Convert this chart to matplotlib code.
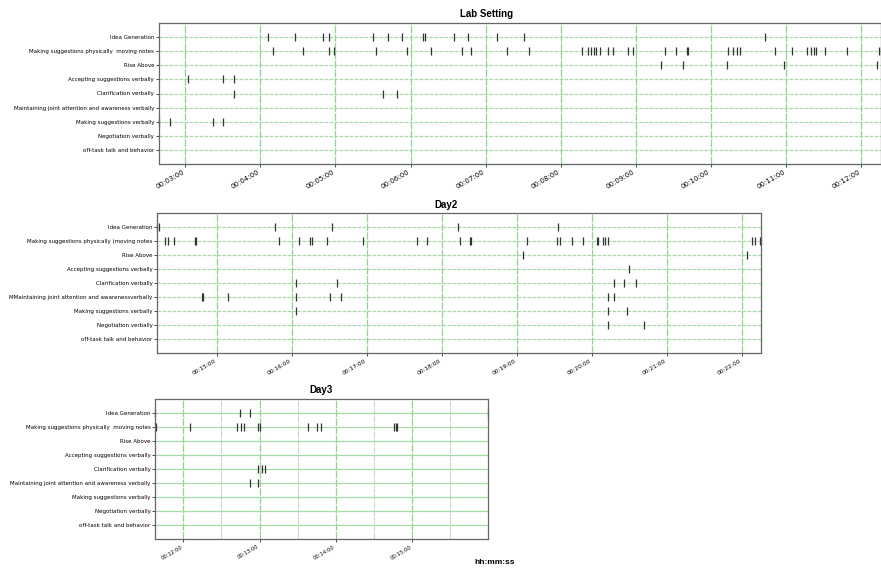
import matplotlib
matplotlib.use("Agg")
import matplotlib.pyplot as plt
from matplotlib.ticker import MultipleLocator, FuncFormatter

# behaviour categories (top to bottom)
labels_lab = ["Idea Generation", "Making suggestions physically  moving notes", "Rise Above",
              "Accepting suggestions verbally", "Clarification verbally",
              "Maintaining joint attention and awareness verbally", "Making suggestions verbally",
              "Negotiation verbally", "off-task talk and behavior"]
labels_day2 = ["Idea Generation", "Making suggestions physically (moving notes", "Rise Above",
               "Accepting suggestions verbally", "Clarification verbally",
               "MMaintaining joint attention and awarenessverbally", "Making suggestions verbally",
               "Negotiation verbally", "off-task talk and behavior"]
labels_day3 = labels_lab

# event times in seconds, one list per category
lab_events = [
    [246, 268, 290, 295, 330, 342, 353, 370, 371.5, 395, 406, 429, 451, 643],
    [250, 274, 295, 299, 332, 357, 376, 401, 408, 437, 455, 497, 502, 504.5, 506.5, 508.5,
     511, 518, 522, 534, 538, 563, 572, 580.5, 581.5, 614, 618, 621, 623, 651, 665, 677,
     680, 682.5, 684, 691, 709, 734, 735.5],
    [560, 578, 613, 658, 733],
    [182, 210, 219],
    [219, 338, 349],
    [],
    [159, 168, 202, 210],
    [],
    [],
]
day2_events = [
    [852.5, 853.5, 947, 992.5, 1093, 1173],
    [858.5, 861, 866, 883, 883.8, 950, 966, 974.5, 976.5, 988, 1017, 1060, 1068.5, 1095,
     1103, 1103.8, 1148, 1172, 1174.5, 1184.5, 1193, 1204.5, 1205.3, 1209, 1211, 1213.3,
     1328, 1330.5, 1335, 1335.5],
    [1145, 1324.5],
    [1229.5],
    [963.5, 996.5, 1217.5, 1225.5, 1235.5],
    [888.5, 889.3, 909, 963.5, 990.5, 999.5, 1213.3, 1217.5],
    [963.5, 1213.3, 1228],
    [1213.3, 1242],
    [],
]
day3_events = [
    [698, 764.5, 772.5, 959.3],
    [698.5, 725, 762, 765.5, 767.5, 779, 780, 818, 825.5, 828, 886, 887, 888],
    [],
    [],
    [779, 781.5, 784],
    [772.5, 779],
    [],
    [],
    [],
]


def hms(x, pos=None):
    s = int(round(x))
    return f"{s // 3600:02d}:{(s % 3600) // 60:02d}:{s % 60:02d}"


def draw_panel(ax, events, labels, title, title_x, xfs, minor=False):
    for row, times in enumerate(events):
        if times:
            ax.plot(times, [row] * len(times), linestyle="none", marker="|",
                    markersize=5.5, mew=0.9, color="#333333", clip_on=False)
    allt = [t for times in events for t in times]
    ax.set_xlim(min(allt), max(allt))
    ax.set_ylim(9, -1)
    ax.set_yticks(range(len(labels)))
    ax.set_yticklabels(labels, fontsize=4)
    ax.xaxis.set_major_locator(MultipleLocator(60))
    ax.xaxis.set_major_formatter(FuncFormatter(hms))
    for lab in ax.get_xticklabels():
        lab.set_rotation(30)
        lab.set_ha("right")
        lab.set_fontsize(xfs)
    ax.tick_params(axis="both", length=2, width=0.5, pad=1.5)
    ax.grid(axis="x", which="major", color="#8fd48f", linestyle=(0, (6, 1)), linewidth=0.9)
    if minor:
        ax.grid(axis="y", which="major", color="#a6dca6", linestyle="-", linewidth=0.9)
        ax.xaxis.set_minor_locator(MultipleLocator(30))
        ax.grid(axis="x", which="minor", color="#c4dcc4", linestyle=(0, (6, 1)), linewidth=0.8)
        ax.tick_params(axis="x", which="minor", length=0)
    else:
        ax.grid(axis="y", which="major", color="#a9d9a9", linestyle=(0, (3, 1)), linewidth=0.9)
    ax.set_axisbelow(True)
    for sp in ax.spines.values():
        sp.set_color("#666666")
        sp.set_linewidth(0.9)
    ax.set_title(title, x=title_x, fontsize=7, fontweight="bold",
                 family="Liberation Sans", pad=4)


fig = plt.figure(figsize=(8.81, 5.69), dpi=100)
W, H = 881, 569


def box(l, r, t, b):
    return [l / W, 1 - b / H, (r - l) / W, (b - t) / H]


ax1 = fig.add_axes(box(159, 880.5, 23, 164))
ax2 = fig.add_axes(box(157.3, 761, 213.3, 353.3))
ax3 = fig.add_axes(box(155.3, 487.7, 399, 539.3))

draw_panel(ax1, lab_events, labels_lab, "Lab Setting", 0.454, 5)
draw_panel(ax2, day2_events, labels_day2, "Day2", 0.478, 4.2)
draw_panel(ax3, day3_events, labels_day3, "Day3", 0.5, 3.8, minor=True)

fig.text(495 / W, 1 - 562 / H, "hh:mm:ss", fontsize=6, fontweight="bold",
         family="Liberation Sans", ha="center", va="center")

fig.savefig("out.png", dpi=100)
